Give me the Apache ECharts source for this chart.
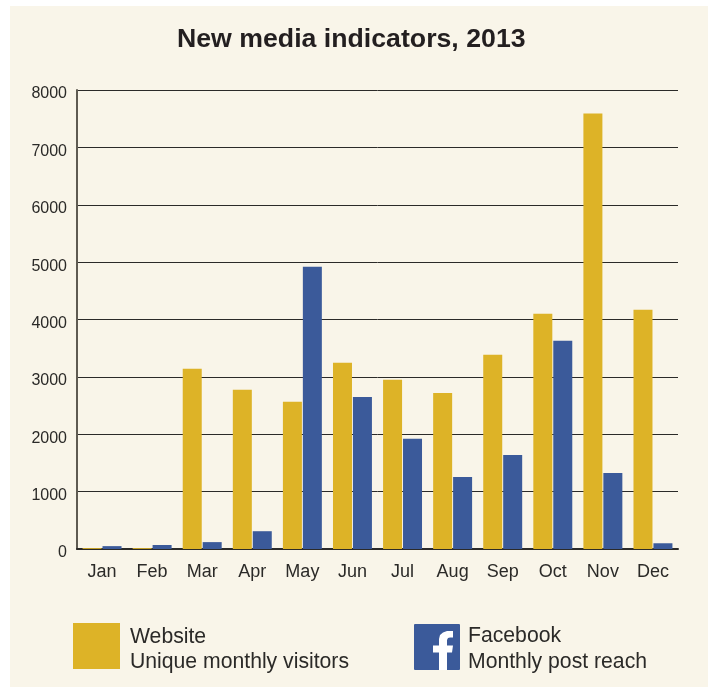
<!DOCTYPE html>
<html>
<head>
<meta charset="utf-8">
<title>New media indicators, 2013</title>
<style>
  html, body { margin: 0; padding: 0; background: #fff; }
  #chart { width: 711px; height: 687px; }
</style>
<script src="https://cdn.jsdelivr.net/npm/echarts@6/dist/echarts.min.js"></script>
</head>
<body>
<div id="chart"></div>
<script>
const months = ['Jan', 'Feb', 'Mar', 'Apr', 'May', 'Jun', 'Jul', 'Aug', 'Sep', 'Oct', 'Nov', 'Dec'];
const website = [15, 15, 3140, 2775, 2565, 3245, 2950, 2720, 3385, 4100, 7590, 4170];
const facebook = [50, 70, 120, 310, 4920, 2650, 1920, 1255, 1640, 3630, 1325, 100];

const GOLD = '#ddb327';
const BLUE = '#3b5a9a';
const INK = '#2b2a28';
const FONT = '"Liberation Sans", Arial, sans-serif';

// outline of the white f in the Facebook icon
const fGlyph = [[439, 670], [439, 652.5], [433, 652.5], [433, 645.5], [439, 645.5], [439, 639], [440, 635], [443, 632.5], [447, 631], [453, 631], [453, 637.5], [450, 637.5], [448, 638], [447, 640], [447, 645.5], [453, 645.5], [452, 652.5], [447, 652.5], [447, 670]];

const chart = echarts.init(document.getElementById('chart'));

// legend is laid out by hand, the original has two separate blocks with an icon
function legendText(x, y, text) {
  return {
    type: 'text', x: x, y: y, z: 5,
    style: { text: text, fill: INK, font: '21.2px ' + FONT, textVerticalAlign: 'middle' }
  };
}

chart.setOption({
  animation: false,
  textStyle: { fontFamily: FONT },
  title: {
    text: 'New media indicators, 2013',
    left: 172, top: 21,
    textStyle: { fontSize: 26.7, fontWeight: 'bold', color: '#231f20', fontFamily: FONT }
  },
  grid: { left: 77, right: 33, top: 90, bottom: 138 },
  xAxis: {
    type: 'category',
    data: months,
    axisLine: { lineStyle: { color: INK, width: 2 } },
    axisTick: { show: false },
    axisLabel: { color: INK, fontSize: 18, margin: 14, fontFamily: FONT }
  },
  yAxis: {
    type: 'value',
    min: 0, max: 8000, interval: 1000,
    axisLine: { show: true, lineStyle: { color: '#5f5b52', width: 2 } },
    axisTick: { show: false },
    axisLabel: {
      margin: 10,
      // labels sit a little below their grid lines in the original
      formatter: v => '{tick|' + v + '}',
      rich: { tick: { color: INK, fontSize: 16, fontFamily: FONT, padding: [8, 0, 0, 0] } }
    },
    splitLine: { lineStyle: { color: INK, width: 1 } }
  },
  series: [
    { name: 'Website', type: 'bar', data: website, barWidth: 19, barGap: '5%', itemStyle: { color: GOLD } },
    { name: 'Facebook', type: 'bar', data: facebook, barWidth: 19, barGap: '5%', itemStyle: { color: BLUE } }
  ],
  graphic: [
    { type: 'rect', z: -10, shape: { x: 10, y: 6, width: 698, height: 681 }, style: { fill: '#f9f5e9' } },
    { type: 'rect', z: 5, shape: { x: 73, y: 623, width: 47, height: 46 }, style: { fill: GOLD } },
    legendText(130, 637, 'Website'),
    legendText(130, 662, 'Unique monthly visitors'),
    { type: 'rect', z: 5, shape: { x: 414, y: 624, width: 46, height: 46, r: 1 }, style: { fill: BLUE } },
    { type: 'polygon', z: 6, shape: { points: fGlyph }, style: { fill: '#fff' } },
    legendText(468, 636, 'Facebook'),
    legendText(468, 662, 'Monthly post reach')
  ]
});
</script>
</body>
</html>
